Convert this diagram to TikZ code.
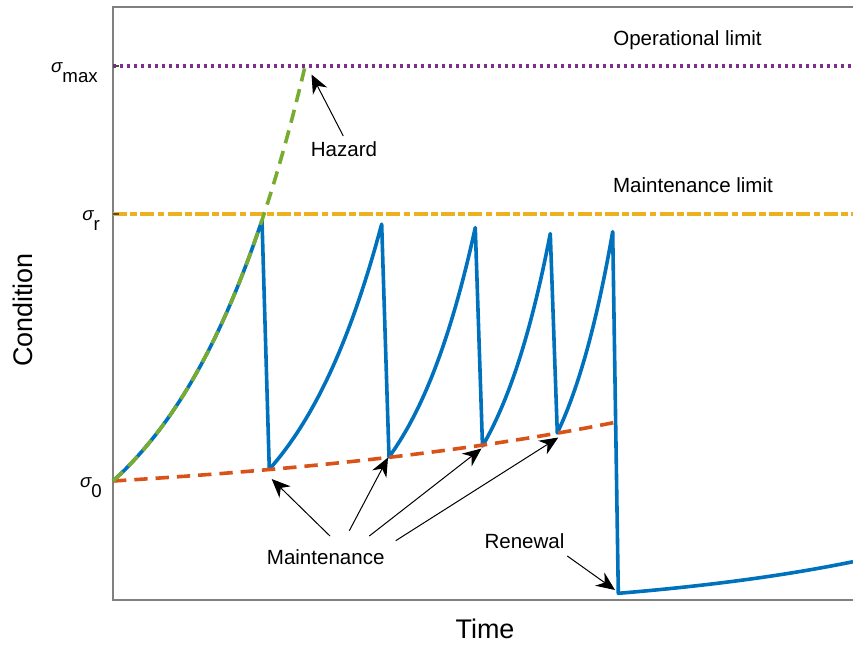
\documentclass[tikz,border=0pt]{standalone}
\usepackage{fontspec}
\setmainfont{Liberation Sans}
\usetikzlibrary{arrows.meta}
\definecolor{mblue}{HTML}{0072BD}
\definecolor{mred}{HTML}{D95319}
\definecolor{myellow}{HTML}{EDB120}
\definecolor{mpurple}{HTML}{7E2F8E}
\definecolor{mgreen}{HTML}{77AC30}
\definecolor{axgray}{RGB}{128,128,128}
\begin{document}
\begin{tikzpicture}[x=0.75pt,y=-0.75pt,
  axisline/.style={draw=axgray,line width=1pt},
  tickmark/.style={draw=axgray!60!black,line width=1pt},
  bluecurve/.style={draw=mblue,line width=2.7pt,line join=round},
  reddash/.style={draw=mred,line width=2.7pt,dash pattern=on 10pt off 6pt},
  greendash/.style={draw=mgreen,line width=2.7pt,dash pattern=on 10pt off 6pt},
  purpledot/.style={draw=mpurple,line width=2.5pt,dash pattern=on 2.5pt off 2.75pt},
  yellowdd/.style={draw=myellow,line width=3pt,dash pattern=on 10.5pt off 2.5pt on 5pt off 2.5pt},
  annot/.style={font=\fontsize{15.4}{18}\selectfont,inner sep=0pt,anchor=base},
  ticklab/.style={font=\fontsize{14}{16}\selectfont,inner sep=0pt,anchor=base east},
  axlab/.style={font=\fontsize{20.2}{24}\selectfont,inner sep=0pt,anchor=base},
  pointer/.style={draw=black,line width=0.75pt,-{Stealth[length=14pt,width=12pt,inset=4.5pt]}}
]
\useasboundingbox (0,0) rectangle (853,644);

% axes
\coordinate (tr) at (853,7);
\coordinate (tl) at (113,7);
\coordinate (bl) at (113,600);
\coordinate (br) at (853,600);
\draw[axisline] (tr) -- (tl) -- (bl) -- (br);

% limits
\coordinate (maxL) at (113,66);
\coordinate (maxR) at (853,66);
\coordinate (rL) at (113,214);
\coordinate (rR) at (853,214);
\draw[purpledot] (maxL) -- (maxR);
\draw[yellowdd] (rL) -- (rR);

% ticks
\draw[tickmark] (113,66) -- (119,66);
\draw[tickmark] (113,214) -- (119,214);
\draw[tickmark] (113,481) -- (119,481);

% tick labels
\node[ticklab] (smax) at (98,72) {{\itshape σ}\raisebox{-0.57em}{max}};
\node[ticklab] (sr) at (100,220) {{\itshape σ}\raisebox{-0.57em}{r}};
\node[ticklab] (s0) at (102,487) {{\itshape σ}\raisebox{-0.57em}{0}};

% condition curve
\draw[bluecurve] plot[domain=113:262,samples=60] (\x,{481-113.8*(exp(0.008*(\x-113))-1)})
  -- (269.3,469.3)
  -- plot[domain=0:1,samples=40] ({269.3+112.4*\x},{469.3-245.3*(exp(1.2*\x)-1)/(exp(1.2)-1)})
  -- (389,457)
  -- plot[domain=0:1,samples=40] ({389+86.3*\x},{457-229.5*(exp(1.2*\x)-1)/(exp(1.2)-1)})
  -- (482.5,446)
  -- plot[domain=0:1,samples=40] ({482.5+67.8*\x},{446-212.5*(exp(1.1*\x)-1)/(exp(1.1)-1)})
  -- (557.3,433)
  -- plot[domain=0:1,samples=40] ({557.3+55.4*\x},{433-201.5*(exp(1.0*\x)-1)/(exp(1.0)-1)})
  -- (618.3,593.3)
  -- plot[domain=0:1,samples=40] ({618.3+234.7*\x},{593.3-31.6*(exp(0.9*\x)-1)/(exp(0.9)-1)});

% maintenance baseline
\draw[reddash] plot[domain=0:1,samples=40] ({113+505.3*\x},{481-59.3*(exp(1.2*\x)-1)/(exp(1.2)-1)});

% hazard trajectory
\draw[greendash] plot[domain=113:305,samples=60] (\x,{481-113.8*(exp(0.008*(\x-113))-1)});

% annotations
\node[annot] (oplim) at (687.5,45) {Operational limit};
\node[annot] (mlim) at (693,192.7) {Maintenance limit};
\node[annot] (haz) at (344,156.7) {Hazard};
\node[annot] (maint) at (325.7,564.3) {Maintenance};
\node[annot] (ren) at (524.5,548.3) {Renewal};

% axis labels
\node[axlab] (xl) at (485,638.3) {Time};
\node[axlab,rotate=90] (yl) at (32.3,310) {Condition};

% pointers
\coordinate (hazT) at (343.3,136);
\coordinate (hazH) at (311.5,74.5);
\coordinate (m1T) at (330,536);
\coordinate (m1H) at (271.7,479);
\coordinate (m2T) at (349.3,530.7);
\coordinate (m2H) at (388,457.5);
\coordinate (m3T) at (369.3,536);
\coordinate (m3H) at (481.5,448.5);
\coordinate (m4T) at (395.7,540.7);
\coordinate (m4H) at (558.3,437.5);
\coordinate (renT) at (567.3,556);
\coordinate (renH) at (615,590);
\draw[pointer] (hazT) -- (hazH);
\draw[pointer] (m1T) -- (m1H);
\draw[pointer] (m2T) -- (m2H);
\draw[pointer] (m3T) -- (m3H);
\draw[pointer] (m4T) -- (m4H);
\draw[pointer] (renT) -- (renH);
\end{tikzpicture}
\end{document}
